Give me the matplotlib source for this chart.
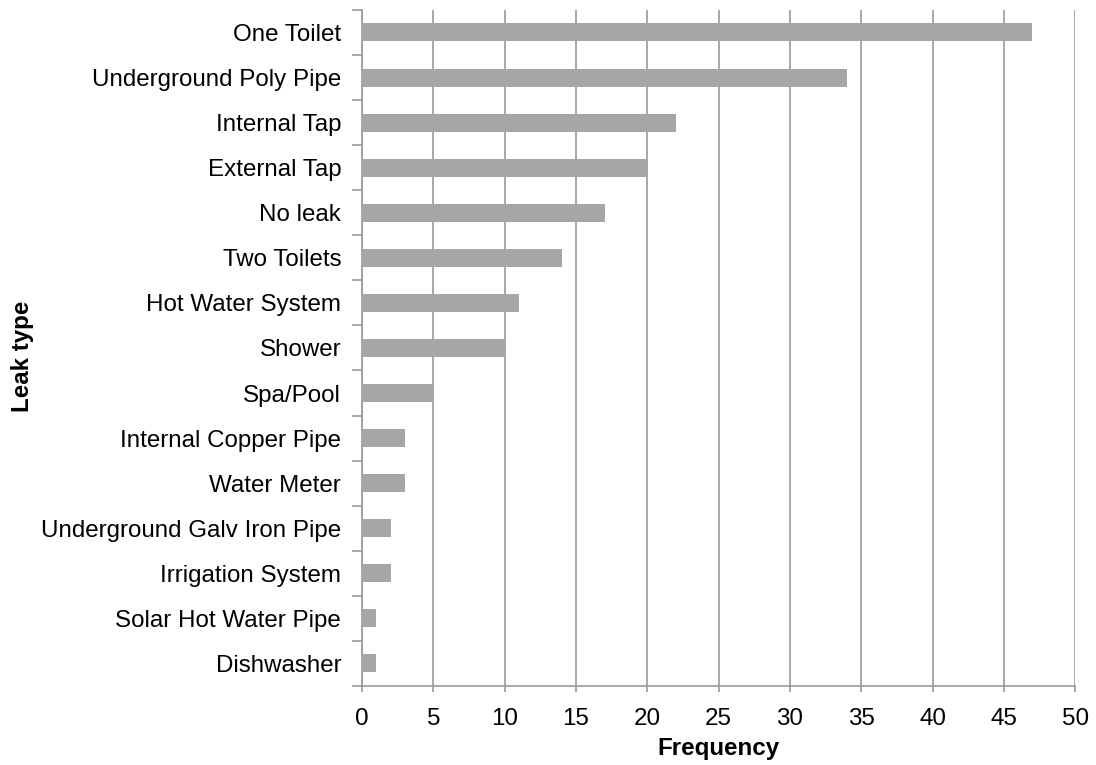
import numpy as np
import matplotlib.pyplot as plt

plt.rcParams['font.family'] = ['Liberation Sans', 'DejaVu Sans']

# --- Data ---
leak_types = ['One Toilet', 'Underground Poly Pipe', 'Internal Tap', 'External Tap',
              'No leak', 'Two Toilets', 'Hot Water System', 'Shower', 'Spa/Pool',
              'Internal Copper Pipe', 'Water Meter', 'Underground Galv Iron Pipe',
              'Irrigation System', 'Solar Hot Water Pipe', 'Dishwasher']
frequency = [47, 34, 22, 20, 17, 14, 11, 10, 5, 3, 3, 2, 2, 1, 1]
x_ticks = [0, 5, 10, 15, 20, 25, 30, 35, 40, 45, 50]

fig = plt.figure(figsize=(10.96, 7.65), dpi=100)
ax = fig.add_axes([0.3303, 0.1033, 0.6508, 0.8837])

y = np.arange(len(leak_types))[::-1]
ax.barh(y, frequency, height=0.4, color='#a6a6a6', zorder=3)

ax.set_xlim(0, 50)
ax.set_ylim(-0.5, len(leak_types) - 0.5)
ax.set_xticks(x_ticks)
ax.set_yticks(y)
ax.set_yticklabels(leak_types)
ax.tick_params(axis='y', length=0, pad=15, labelsize=17.4)
ax.tick_params(axis='x', length=4, width=1.2, color='#999999', pad=12, labelsize=17.4)

# category boundary ticks on the y-axis
ax.set_yticks(np.arange(len(leak_types) + 1) - 0.5, minor=True)
ax.tick_params(axis='y', which='minor', length=7, width=1.2, color='#999999')

ax.grid(axis='x', color='#999999', linewidth=1.2, zorder=0)
for s in ['top', 'right']:
    ax.spines[s].set_visible(False)
for s in ['left', 'bottom']:
    ax.spines[s].set_color('#999999')
    ax.spines[s].set_linewidth(1.2)

ax.set_xlabel('Frequency', fontsize=17.4, fontweight='bold')
ax.set_ylabel('Leak type', fontsize=17.4, fontweight='bold')
ax.xaxis.set_label_coords(0.5, -0.076)
ax.yaxis.set_label_coords(-0.46, 0.487)

fig.savefig('out.png', dpi=100)
